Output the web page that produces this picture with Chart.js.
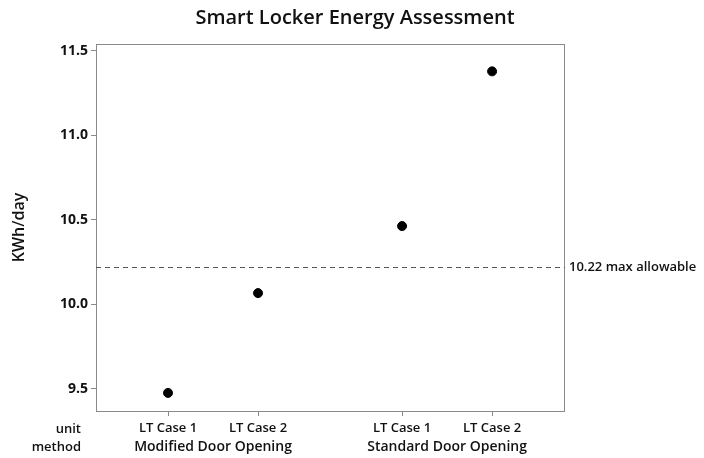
<!DOCTYPE html>
<html>
<head>
<meta charset="utf-8">
<script src="https://cdn.jsdelivr.net/npm/chart.js@4/dist/chart.umd.min.js"></script>
<style>
  html, body { margin: 0; padding: 0; background: #fff; }
  #wrap { width: 704px; height: 458px; }
</style>
</head>
<body>
<div id="wrap"><canvas id="c" width="704" height="458"></canvas></div>
<script>
const units = ["LT Case 1", "LT Case 2", "LT Case 1", "LT Case 2"];
const methods = ["Modified Door Opening", "Modified Door Opening", "Standard Door Opening", "Standard Door Opening"];
const kwhPerDay = [9.474, 10.065, 10.462, 11.378];
const maxAllowable = 10.22;
const maxLabel = "10.22 max allowable";
const yTicks = [9.5, 10.0, 10.5, 11.0, 11.5];
const chartTitle = "Smart Locker Energy Assessment";
const rowHeaders = ["unit", "method"];

// layout: position along x axis (groups separated by an extra gap)
const groupNames = [...new Set(methods)];
const xPos = units.map((u, i) => i + 1 + groupNames.indexOf(methods[i]) * 0.6);
const points = kwhPerDay.map((v, i) => ({ x: xPos[i], y: v }));

const FONT = "'Open Sans', 'Noto Sans', sans-serif";
const frameColor = '#8a8a8a';
const textColor = '#111';

const decor = {
  id: 'decor',
  afterDraw(chart) {
    const { ctx, chartArea: a, scales: { x, y } } = chart;
    ctx.save();
    // title
    ctx.fillStyle = textColor;
    ctx.font = "600 20px " + FONT;
    ctx.textAlign = 'center';
    ctx.textBaseline = 'middle';
    ctx.fillText(chartTitle, chart.width / 2 + 3, 18);
    // frame
    ctx.strokeStyle = frameColor;
    ctx.lineWidth = 1;
    ctx.strokeRect(a.left + 0.5, a.top + 0.5, a.right - a.left - 1, a.bottom - a.top);
    // reference line
    const yl = Math.round(y.getPixelForValue(maxAllowable)) + 0.5;
    ctx.strokeStyle = '#555';
    ctx.setLineDash([5, 4]);
    ctx.beginPath();
    ctx.moveTo(a.left, yl);
    ctx.lineTo(a.right, yl);
    ctx.stroke();
    ctx.setLineDash([]);
    ctx.fillStyle = textColor;
    ctx.font = "600 13px " + FONT;
    ctx.textAlign = 'left';
    ctx.fillText(maxLabel, a.right + 4, yl);
    // row headers
    const row1 = 429, row2 = 447;
    ctx.textAlign = 'right';
    ctx.fillText(rowHeaders[0], 81, row1);
    ctx.fillText(rowHeaders[1], 81, row2);
    // group labels
    ctx.font = "600 14px " + FONT;
    ctx.textAlign = 'center';
    groupNames.forEach(g => {
      const xs = xPos.filter((_, i) => methods[i] === g);
      const mid = (Math.min(...xs) + Math.max(...xs)) / 2;
      ctx.fillText(g, x.getPixelForValue(mid), row2);
    });
    ctx.restore();
  }
};

new Chart(document.getElementById('c'), {
  type: 'scatter',
  data: {
    datasets: [{
      data: points,
      backgroundColor: '#000',
      borderColor: '#000',
      pointRadius: 4.5,
      pointHoverRadius: 4.5
    }]
  },
  options: {
    responsive: false,
    animation: false,
    devicePixelRatio: 1,
    layout: { padding: { left: 0, right: 139, top: 44, bottom: 0 } },
    plugins: {
      legend: { display: false },
      tooltip: { enabled: false },
      title: { display: false }
    },
    scales: {
      x: {
        type: 'linear',
        min: 0.2,
        max: 5.41,
        afterFit(s) { s.height = 47; },
        afterBuildTicks(s) { s.ticks = xPos.map(v => ({ value: v })); },
        border: { display: false },
        grid: { drawOnChartArea: false, drawTicks: true, tickLength: 5, color: frameColor },
        ticks: {
          padding: 4,
          color: textColor,
          font: { family: FONT, size: 13, weight: '600' },
          maxRotation: 0,
          autoSkip: false,
          callback(v) { const i = xPos.indexOf(v); return i >= 0 ? units[i] : ''; }
        }
      },
      y: {
        min: 9.367,
        max: 11.54,
        afterFit(s) { s.width = 96; },
        afterBuildTicks(s) { s.ticks = yTicks.map(v => ({ value: v })); },
        border: { display: false },
        grid: { drawOnChartArea: false, drawTicks: true, tickLength: 5, color: frameColor },
        ticks: {
          padding: 3,
          color: textColor,
          font: { family: FONT, size: 14, weight: '700' },
          callback(v) { return v.toFixed(1); }
        },
        title: {
          display: true,
          text: 'KWh/day',
          color: textColor,
          font: { family: FONT, size: 16, weight: '600' },
          padding: { top: 10, bottom: 4 }
        }
      }
    }
  },
  plugins: [decor]
});
</script>
</body>
</html>
